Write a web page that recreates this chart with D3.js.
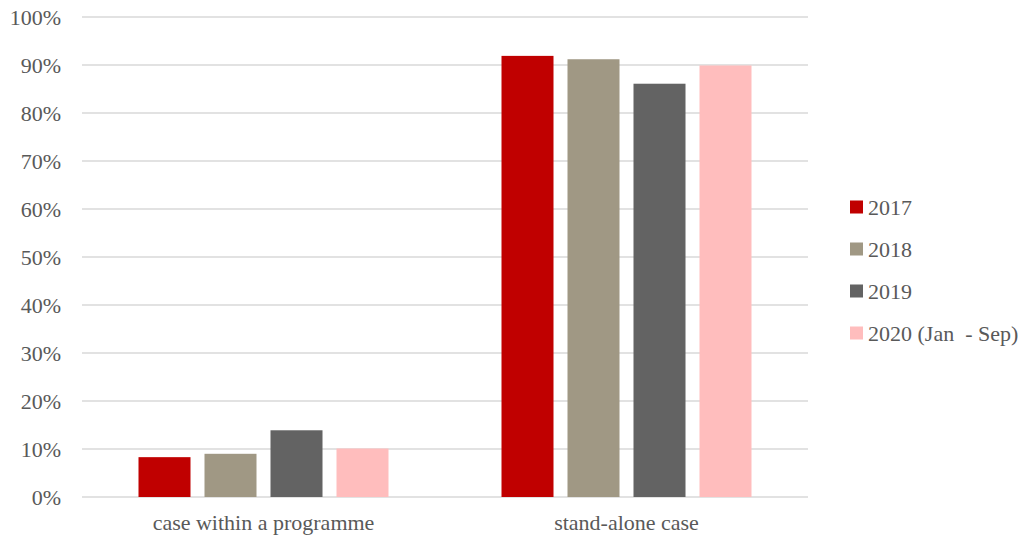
<!DOCTYPE html>
<html><head><meta charset="utf-8">
<script src="https://cdn.jsdelivr.net/npm/d3@7"></script>
<style>body{margin:0;background:#fff}svg{display:block}text{white-space:pre}</style>
</head><body>
<svg id="c" width="1023" height="540"></svg>
<script>
const categories = ["case within a programme", "stand-alone case"];
const series = ["2017", "2018", "2019", "2020 (Jan  - Sep)"];
const colors = ["#C00000", "#A09884", "#636363", "#FFBDBD"];
const values = [
  [8.3, 9.0, 13.9, 10.1],
  [91.9, 91.2, 86.1, 89.9]
];
const yTicks = [0, 10, 20, 30, 40, 50, 60, 70, 80, 90, 100];

(function () {
const svg = d3.select("#c");
const font = "'Liberation Serif', 'Times New Roman', serif";
const fs = 22;
const textColor = "#595959";
const mLeft = 82, mRight = 808, mTop = 17, mBottom = 497;

const y = d3.scaleLinear().domain([0, 100]).range([mBottom, mTop]);
const x0 = d3.scaleBand().domain(categories).range([mLeft, mRight]).padding(0);
const x1 = d3.scaleBand().domain(series).range([56.5, 306.5]).paddingInner(14/66).paddingOuter(0);

svg.append("g").selectAll("line").data(yTicks).join("line")
  .attr("x1", mLeft).attr("x2", mRight)
  .attr("y1", d => y(d)).attr("y2", d => y(d))
  .attr("stroke", "#d9d9d9").attr("stroke-width", 1.5);

const yAxis = d3.axisLeft(y).tickValues(yTicks).tickFormat(d => d + "%").tickSize(0).tickPadding(0);
const ya = svg.append("g").attr("transform", `translate(61,0)`).call(yAxis);
ya.select(".domain").remove();
ya.selectAll("text").attr("font-family", font).attr("font-size", fs).attr("fill", textColor);

categories.forEach((cat, ci) => {
  svg.append("g").attr("transform", `translate(${x0(cat)},0)`)
    .selectAll("rect").data(values[ci]).join("rect")
    .attr("x", (d, i) => x1(series[i]))
    .attr("width", x1.bandwidth())
    .attr("y", d => y(d))
    .attr("height", d => y(0) - y(d))
    .attr("fill", (d, i) => colors[i]);
});

const xAxis = d3.axisBottom(x0).tickSize(0).tickPadding(0);
const xa = svg.append("g").attr("transform", `translate(0,${mBottom + 17})`).call(xAxis);
xa.select(".domain").remove();
xa.selectAll("text").attr("font-family", font).attr("font-size", fs).attr("fill", textColor)
  .attr("dy", "0.71em");

const lg = svg.append("g").selectAll("g").data(series).join("g")
  .attr("transform", (d, i) => `translate(850,${207 + i * 42})`);
lg.append("rect").attr("x", 0).attr("y", -6.5).attr("width", 13).attr("height", 13)
  .attr("fill", (d, i) => colors[i]);
lg.append("text").attr("x", 18).attr("dy", "0.35em").text(d => d)
  .attr("font-family", font).attr("font-size", fs).attr("fill", textColor);
})();
</script>
</body></html>
